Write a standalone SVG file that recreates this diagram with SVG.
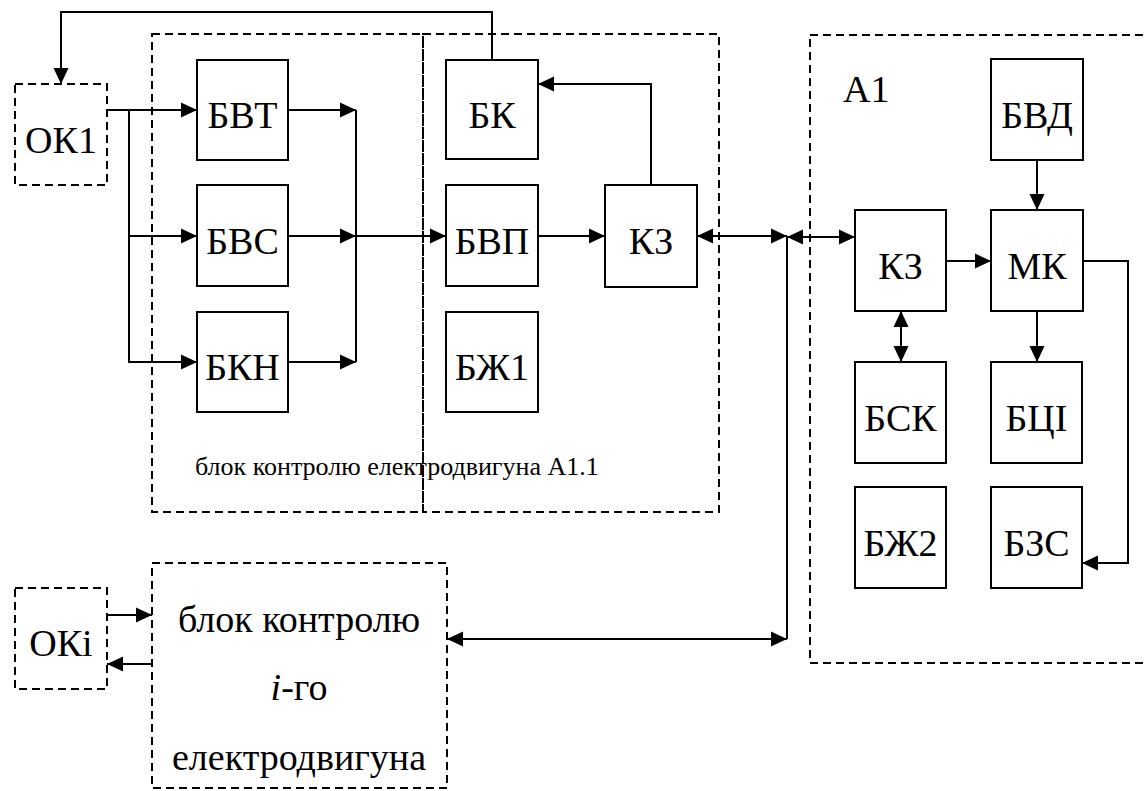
<svg xmlns="http://www.w3.org/2000/svg" width="1148" height="791" viewBox="0 0 1148 791">
<defs>
<marker id="ah" markerUnits="userSpaceOnUse" markerWidth="17" markerHeight="16" refX="16" refY="8" orient="auto-start-reverse">
<path d="M0,0.5 L16,8 L0,15.5 Z" fill="#000"/>
</marker>
</defs>
<rect width="1148" height="791" fill="#fff"/>
<g id="containers" fill="none" stroke="#000" stroke-width="2" stroke-dasharray="8,5">
<rect id="a11-left" x="152" y="34" width="271" height="478"/>
<rect id="a11-right" x="423" y="34" width="296" height="478"/>
<rect id="a1" x="810" y="35" width="340" height="628"/>
</g>
<g id="container-labels" font-family="Liberation Serif" fill="#000">
<text font-size="26" x="195" y="475">блок контролю електродвигуна A1.1</text>
<text font-size="38" x="843" y="102">A1</text>
</g>
<g id="connectors" fill="none" stroke="#000" stroke-width="2">
<path d="M492,60 V12 H61 V84" marker-end="url(#ah)"/>
<path d="M107,110 H197" marker-end="url(#ah)"/>
<path d="M129,110 V362 H197" marker-end="url(#ah)"/>
<path d="M129,236 H197" marker-end="url(#ah)"/>
<path d="M288,110 H356" marker-end="url(#ah)"/>
<path d="M288,236 H356" marker-end="url(#ah)"/>
<path d="M288,362 H356" marker-end="url(#ah)"/>
<path d="M356,110 V362"/>
<path d="M356,236 H446" marker-end="url(#ah)"/>
<path d="M538,236 H605" marker-end="url(#ah)"/>
<path d="M651,185 V84 H538" marker-end="url(#ah)"/>
<path d="M697,236 H787" marker-start="url(#ah)" marker-end="url(#ah)"/>
<path d="M787,237 H855" marker-start="url(#ah)" marker-end="url(#ah)"/>
<path d="M787,236 V639"/>
<path d="M447,639 H787" marker-start="url(#ah)" marker-end="url(#ah)"/>
<path d="M107,615 H152" marker-end="url(#ah)"/>
<path d="M152,664 H107" marker-end="url(#ah)"/>
<path d="M1037,160 V210" marker-end="url(#ah)"/>
<path d="M946,261 H991" marker-end="url(#ah)"/>
<path d="M901,311 V362" marker-start="url(#ah)" marker-end="url(#ah)"/>
<path d="M1037,311 V362" marker-end="url(#ah)"/>
<path d="M1083,261 H1128 V563 H1082" marker-end="url(#ah)"/>
</g>
<g id="nodes" font-family="Liberation Serif" font-size="38" text-anchor="middle">
<g id="ok1"><rect x="15" y="84" width="92" height="101" fill="none" stroke="#000" stroke-width="2" stroke-dasharray="8,5"/><text x="61" y="153">ОК1</text></g>
<g id="oki"><rect x="15" y="588" width="92" height="101" fill="none" stroke="#000" stroke-width="2" stroke-dasharray="8,5"/><text x="61" y="656">ОКi</text></g>
<g id="bki">
<rect x="152" y="563" width="295" height="225" fill="none" stroke="#000" stroke-width="2" stroke-dasharray="8,5"/>
<text x="299" y="632">блок контролю</text>
<text x="299" y="700"><tspan font-style="italic">i</tspan>-го</text>
<text x="299" y="770">електродвигуна</text>
</g>
<g fill="#fff" stroke="#000" stroke-width="2">
<rect id="r-bvt" x="197" y="60" width="91" height="100"/>
<rect id="r-bvs" x="197" y="185" width="91" height="101"/>
<rect id="r-bkn" x="197" y="312" width="91" height="100"/>
<rect id="r-bk" x="446" y="60" width="92" height="99"/>
<rect id="r-bvp" x="446" y="185" width="92" height="101"/>
<rect id="r-bzh1" x="446" y="312" width="92" height="100"/>
<rect id="r-kz1" x="605" y="185" width="92" height="102"/>
<rect id="r-bvd" x="991" y="59" width="92" height="101"/>
<rect id="r-kz2" x="855" y="210" width="91" height="101"/>
<rect id="r-mk" x="991" y="210" width="92" height="101"/>
<rect id="r-bsk" x="855" y="362" width="91" height="101"/>
<rect id="r-bci" x="991" y="362" width="91" height="101"/>
<rect id="r-bzh2" x="855" y="487" width="91" height="101"/>
<rect id="r-bzs" x="991" y="487" width="91" height="101"/>
</g>
<g fill="#000">
<text id="bvt" x="242.5" y="128">БВТ</text>
<text id="bvs" x="242.5" y="254">БВС</text>
<text id="bkn" x="242.5" y="380">БКН</text>
<text id="bk" x="492" y="128">БК</text>
<text id="bvp" x="492" y="254">БВП</text>
<text id="bzh1" x="492" y="380">БЖ1</text>
<text id="kz1" x="651" y="254">КЗ</text>
<text id="bvd" x="1037" y="128">БВД</text>
<text id="kz2" x="900.5" y="279">КЗ</text>
<text id="mk" x="1037" y="279">МК</text>
<text id="bsk" x="900.5" y="431">БСК</text>
<text id="bci" x="1036.5" y="431">БЦІ</text>
<text id="bzh2" x="900.5" y="556">БЖ2</text>
<text id="bzs" x="1036.5" y="556">БЗС</text>
</g>
</g>
</svg>
